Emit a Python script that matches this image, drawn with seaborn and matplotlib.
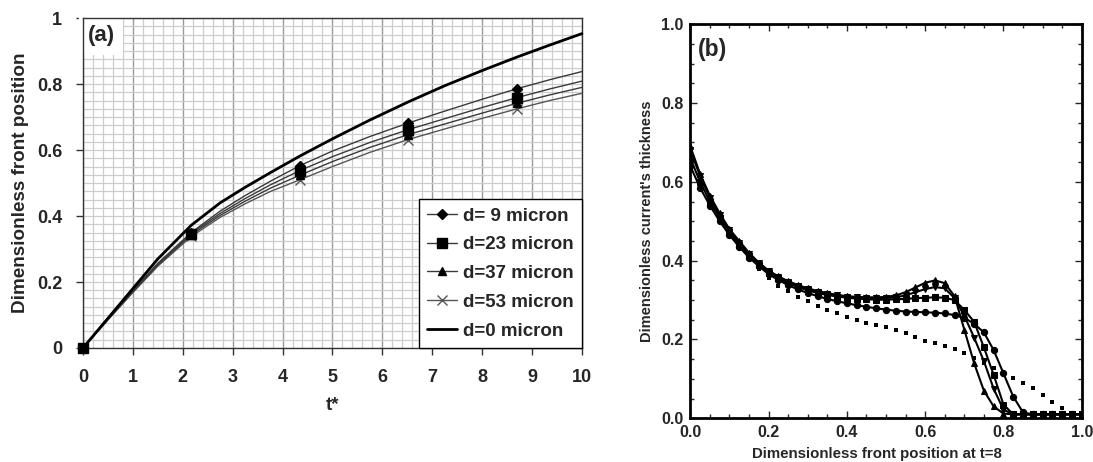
import matplotlib
matplotlib.use("Agg")
import matplotlib.pyplot as plt
import seaborn as sns
import numpy as np

# ---------------- Panel (a) data ----------------
t_star = [0, 0.5, 1, 1.5, 2.17, 2.75, 3.25, 3.75, 4.35, 5, 5.75, 6.52, 7.25, 8, 8.7, 9.35, 10]
marker_idx = [0, 4, 8, 11, 14]
front_d9 = [0, 0.088, 0.174, 0.257, 0.35, 0.415, 0.462, 0.505, 0.553, 0.597, 0.641, 0.682, 0.718, 0.754, 0.786, 0.813, 0.838]
front_d23 = [0, 0.087, 0.172, 0.254, 0.347, 0.408, 0.453, 0.494, 0.538, 0.58, 0.623, 0.662, 0.695, 0.729, 0.759, 0.785, 0.809]
front_d37 = [0, 0.086, 0.17, 0.251, 0.343, 0.402, 0.445, 0.484, 0.524, 0.565, 0.608, 0.647, 0.679, 0.712, 0.742, 0.767, 0.79]
front_d53 = [0, 0.085, 0.168, 0.248, 0.338, 0.396, 0.437, 0.474, 0.51, 0.55, 0.593, 0.632, 0.664, 0.696, 0.725, 0.75, 0.772]
front_d0 = [0, 0.09, 0.18, 0.27, 0.372, 0.44, 0.487, 0.531, 0.582, 0.634, 0.691, 0.746, 0.795, 0.841, 0.882, 0.918, 0.953]
labels_a = ["d= 9 micron", "d=23 micron", "d=37 micron", "d=53 micron", "d=0 micron"]

# ---------------- Panel (b) data ----------------
x_pos = [0.0, 0.025, 0.05, 0.075, 0.1, 0.125, 0.15, 0.175, 0.2, 0.225, 0.25, 0.275, 0.3, 0.325,
         0.35, 0.375, 0.4, 0.425, 0.45, 0.475, 0.5, 0.525, 0.55, 0.575, 0.6, 0.625, 0.65, 0.675,
         0.7, 0.725, 0.75, 0.775, 0.8, 0.825, 0.85, 0.875, 0.9, 0.925, 0.95, 0.975, 1.0]
h_s1 = [0.69, 0.62, 0.565, 0.52, 0.48, 0.45, 0.42, 0.395, 0.375, 0.36, 0.348, 0.338, 0.33, 0.323,
        0.318, 0.313, 0.31, 0.308, 0.307, 0.307, 0.308, 0.312, 0.32, 0.332, 0.344, 0.35, 0.343, 0.31,
        0.225, 0.14, 0.07, 0.03, 0.012, 0.01, 0.01, 0.01, 0.01, 0.01, 0.01, 0.01, 0.01]
h_s2 = [0.68, 0.615, 0.56, 0.515, 0.477, 0.445, 0.417, 0.393, 0.373, 0.358, 0.346, 0.336, 0.328, 0.321,
        0.316, 0.312, 0.309, 0.307, 0.306, 0.305, 0.305, 0.307, 0.312, 0.32, 0.328, 0.333, 0.33, 0.305,
        0.26, 0.205, 0.145, 0.075, 0.022, 0.01, 0.01, 0.01, 0.01, 0.01, 0.01, 0.01, 0.01]
h_s3 = [0.66, 0.6, 0.55, 0.508, 0.472, 0.44, 0.413, 0.39, 0.37, 0.355, 0.343, 0.333, 0.325, 0.318,
        0.313, 0.309, 0.306, 0.304, 0.302, 0.301, 0.301, 0.302, 0.303, 0.305, 0.306, 0.307, 0.306, 0.3,
        0.275, 0.245, 0.18, 0.11, 0.035, 0.01, 0.01, 0.01, 0.01, 0.01, 0.01, 0.01, 0.01]
h_s4 = [0.64, 0.585, 0.54, 0.5, 0.465, 0.435, 0.408, 0.386, 0.366, 0.351, 0.338, 0.327, 0.318, 0.31,
        0.303, 0.297, 0.292, 0.287, 0.283, 0.279, 0.276, 0.273, 0.271, 0.27, 0.269, 0.268, 0.266, 0.262,
        0.255, 0.24, 0.218, 0.173, 0.114, 0.055, 0.015, 0.01, 0.01, 0.01, 0.01, 0.01, 0.01]
h_dot = [0.67, 0.61, 0.555, 0.51, 0.47, 0.435, 0.405, 0.378, 0.355, 0.337, 0.322, 0.309, 0.297, 0.286,
         0.276, 0.266, 0.256, 0.249, 0.242, 0.237, 0.232, 0.224, 0.216, 0.206, 0.197, 0.19, 0.183, 0.176,
         0.166, 0.153, 0.14, 0.127, 0.114, 0.102, 0.09, 0.076, 0.06, 0.042, 0.025, 0.012, 0.01]

# ---------------- Style ----------------
sns.set_style("ticks")
plt.rcParams['font.family'] = ['Liberation Sans', 'DejaVu Sans']
plt.rcParams['font.weight'] = 'bold'
plt.rcParams['axes.labelweight'] = 'bold'

fig = plt.figure(figsize=(10.93, 4.62), dpi=100)
ax_a = fig.add_axes([0.0759, 0.2468, 0.4565, 0.714])
ax_b = fig.add_axes([0.6316, 0.0946, 0.3581, 0.8528])

# ---------------- Panel (a) ----------------
thin = '#3a3a3a'
specs = [
    (front_d9, 'D', 5, thin, 3.2),
    (front_d23, 's', 7, thin, 3.6),
    (front_d37, '^', 6, thin, 3.1),
    (front_d53, 'x', 7, '#555555', 3.0),
]
for (vals, mk, ms, col, z), lab in zip(specs, labels_a[:4]):
    sns.lineplot(x=t_star, y=vals, ax=ax_a, color=col, lw=1.0, marker=mk, markersize=ms,
                 markevery=marker_idx, markerfacecolor='black',
                 markeredgecolor='black' if mk != 'x' else '#555555',
                 markeredgewidth=1.0, label=lab, sort=False, errorbar=None, zorder=z,
                 clip_on=False)
sns.lineplot(x=t_star, y=front_d0, ax=ax_a, color='black', lw=2.0, label=labels_a[4],
             sort=False, errorbar=None, zorder=4, clip_on=False)

ax_a.set_xlim(0, 10)
ax_a.set_ylim(0, 1)
ax_a.set_xticks(range(0, 11))
ax_a.set_xticks(np.arange(0, 10.01, 0.2), minor=True)
ax_a.set_yticks([0, 0.2, 0.4, 0.6, 0.8, 1.0])
ax_a.set_yticklabels(["0", "0.2", "0.4", "0.6", "0.8", "1"])
ax_a.set_yticks(np.arange(0, 1.001, 0.025), minor=True)
ax_a.grid(which='minor', color='#cdcdcd', lw=0.9)
ax_a.grid(which='major', axis='y', color='#cdcdcd', lw=0.9)
ax_a.grid(which='major', axis='x', color='#9a9a9a', lw=1.0)
ax_a.set_axisbelow(True)
ax_a.tick_params(which='major', direction='out', length=5, width=1, labelsize=13, pad=10, color='#333333')
ax_a.tick_params(which='minor', length=0)
for sp in ax_a.spines.values():
    sp.set_color('#333333')
    sp.set_linewidth(1.0)
ax_a.set_xlabel("t*", fontsize=13.5, fontweight='bold')
ax_a.set_ylabel("Dimensionless front position", fontsize=13.6, fontweight='bold')
ax_a.xaxis.set_label_coords(0.5, -0.15)
ax_a.yaxis.set_label_coords(-0.108, 0.5)
ax_a.text(0.009, 0.978, "(a)", transform=ax_a.transAxes, fontsize=16, fontweight='bold',
          ha='left', va='top', zorder=1,
          bbox=dict(boxstyle='square,pad=0.4', fc='white', ec='none'))
leg = ax_a.legend(loc='lower right', borderaxespad=0, fontsize=13.5, frameon=True, fancybox=False,
                  edgecolor='black', framealpha=1, handlelength=1.6, handletextpad=0.3,
                  labelspacing=0.62, borderpad=0.45)
leg.get_frame().set_linewidth(1.0)
leg.set_zorder(6)
for txt in leg.get_texts():
    txt.set_fontweight('bold')

# ---------------- Panel (b) ----------------
for vals, mk in [(h_s1, '^'), (h_s2, 'v'), (h_s3, 's'), (h_s4, 'o')]:
    sns.lineplot(x=x_pos, y=vals, ax=ax_b, color='black', lw=1.5, marker=mk, markersize=4.5,
                 markeredgecolor='black', markerfacecolor='black', sort=False, errorbar=None)
sns.scatterplot(x=x_pos, y=h_dot, ax=ax_b, color='black', marker='s', s=7, linewidth=0)

ax_b.set_xlim(0, 1)
ax_b.set_ylim(0, 1)
ax_b.set_xticks([0, 0.2, 0.4, 0.6, 0.8, 1.0])
ax_b.set_yticks([0, 0.2, 0.4, 0.6, 0.8, 1.0])
ax_b.set_xticklabels(["0.0", "0.2", "0.4", "0.6", "0.8", "1.0"])
ax_b.set_yticklabels(["0.0", "0.2", "0.4", "0.6", "0.8", "1.0"])
ax_b.set_xticks(np.arange(0, 1.001, 0.05), minor=True)
ax_b.set_yticks(np.arange(0, 1.001, 0.05), minor=True)
ax_b.tick_params(which='both', direction='in', top=True, right=True, labelsize=11.5, width=1)
ax_b.tick_params(which='major', length=5, pad=5)
ax_b.tick_params(which='minor', length=3)
for sp in ax_b.spines.values():
    sp.set_color('black')
    sp.set_linewidth(2.0)
ax_b.set_xlabel("Dimensionless front position at t=8", fontsize=10.8, fontweight='bold')
ax_b.set_ylabel("Dimensionless current's thickness", fontsize=10.5, fontweight='bold')
ax_b.xaxis.set_label_coords(0.477, -0.072)
ax_b.yaxis.set_label_coords(-0.092, 0.5)
ax_b.text(0.02, 0.965, "(b)", transform=ax_b.transAxes, fontsize=16.5, fontweight='bold',
          ha='left', va='top')
ax_b.grid(False)

fig.savefig("out.png", dpi=100)
